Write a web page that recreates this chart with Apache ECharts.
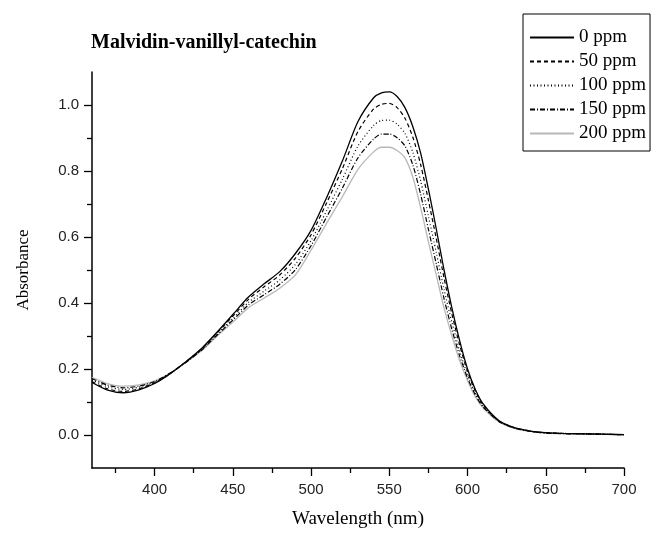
<!DOCTYPE html>
<html>
<head>
<meta charset="utf-8">
<script src="https://cdn.jsdelivr.net/npm/echarts@6/dist/echarts.min.js"></script>
<style>
  html, body { margin: 0; padding: 0; background: #fff; }
  #chart { width: 652px; height: 534px; }
</style>
</head>
<body>
<div id="chart"></div>
<script>
  // wavelength (nm)
  var wavelengths = [360, 370, 380, 390, 400, 410, 420, 430, 440, 450, 460, 470, 480, 490, 500, 510, 520, 530, 540, 545,
    550, 555, 560, 565, 570, 575, 580, 585, 590, 595, 600, 605, 610, 620, 630, 640, 650, 660, 670, 680, 690, 700];

  // absorbance per concentration
  var ppm0 = [0.159, 0.136, 0.128, 0.137, 0.156, 0.186, 0.222, 0.262, 0.312, 0.365, 0.418, 0.458, 0.495, 0.550, 0.620, 0.720, 0.830, 0.950, 1.022, 1.037,
    1.040, 1.026, 0.992, 0.935, 0.855, 0.745, 0.625, 0.500, 0.385, 0.285, 0.200, 0.138, 0.094, 0.044, 0.022, 0.012, 0.007, 0.005, 0.004, 0.003, 0.002, 0.001];
  var ppm50 = [0.162, 0.140, 0.132, 0.140, 0.158, 0.186, 0.222, 0.261, 0.310, 0.360, 0.411, 0.449, 0.485, 0.536, 0.607, 0.704, 0.807, 0.920, 0.988, 1.002,
    1.005, 0.992, 0.960, 0.903, 0.820, 0.711, 0.596, 0.476, 0.367, 0.272, 0.193, 0.133, 0.091, 0.043, 0.022, 0.012, 0.007, 0.005, 0.004, 0.003, 0.002, 0.001];
  var ppm100 = [0.167, 0.146, 0.138, 0.145, 0.160, 0.187, 0.221, 0.258, 0.306, 0.353, 0.402, 0.436, 0.470, 0.517, 0.589, 0.680, 0.775, 0.876, 0.938, 0.953,
    0.954, 0.942, 0.914, 0.857, 0.771, 0.663, 0.554, 0.441, 0.342, 0.254, 0.182, 0.126, 0.088, 0.042, 0.021, 0.012, 0.006, 0.005, 0.004, 0.003, 0.002, 0.001];
  var ppm150 = [0.171, 0.151, 0.143, 0.148, 0.162, 0.188, 0.220, 0.257, 0.303, 0.348, 0.394, 0.425, 0.457, 0.501, 0.574, 0.661, 0.748, 0.840, 0.897, 0.912,
    0.912, 0.901, 0.876, 0.819, 0.730, 0.623, 0.519, 0.413, 0.320, 0.239, 0.173, 0.121, 0.085, 0.041, 0.021, 0.011, 0.006, 0.004, 0.003, 0.003, 0.002, 0.001];
  var ppm200 = [0.175, 0.156, 0.148, 0.152, 0.164, 0.188, 0.220, 0.255, 0.300, 0.342, 0.386, 0.415, 0.445, 0.485, 0.560, 0.642, 0.722, 0.805, 0.858, 0.872,
    0.872, 0.862, 0.840, 0.782, 0.690, 0.585, 0.485, 0.385, 0.300, 0.225, 0.165, 0.115, 0.082, 0.040, 0.020, 0.011, 0.006, 0.004, 0.003, 0.003, 0.002, 0.001];

  var seriesNames = ['0 ppm', '50 ppm', '100 ppm', '150 ppm', '200 ppm'];

  // tick positions
  var xMajorTicks = [400, 450, 500, 550, 600, 650, 700];
  var xMinorTicks = [375, 425, 475, 525, 575, 625, 675];
  var yMajorTicks = [0, 0.2, 0.4, 0.6, 0.8, 1.0];
  var yMinorTicks = [0.1, 0.3, 0.5, 0.7, 0.9];

  var serif = '"Liberation Serif", "Times New Roman", serif';
  var sans = '"Liberation Sans", Arial, sans-serif';

  function pairs(values) {
    return wavelengths.map(function (w, i) { return [w, values[i]]; });
  }

  var myChart = echarts.init(document.getElementById('chart'));

  var lineStyles = [
    { color: '#000', width: 1.3, type: 'solid' },
    { color: '#000', width: 1.2, type: [4, 3] },
    { color: '#000', width: 1.2, type: [1, 2.5] },
    { color: '#000', width: 1.2, type: [5, 2, 1, 2] },
    { color: '#b8b8b8', width: 1.3, type: 'solid' }
  ];
  var allData = [ppm0, ppm50, ppm100, ppm150, ppm200];

  var axisLineStyle = { color: '#000', width: 1.5 };

  var option = {
    animation: false,
    title: {
      text: 'Malvidin-vanillyl-catechin',
      left: 91,
      top: 33,
      padding: 0,
      textStyle: { fontFamily: serif, fontWeight: 'bold', fontSize: 20, color: '#000' }
    },
    legend: {
      orient: 'vertical',
      left: 523,
      top: 14,
      padding: [14, 4, 8, 6],
      itemWidth: 44,
      itemHeight: 14,
      itemGap: 5,
      borderColor: '#000',
      borderWidth: 1,
      borderRadius: 0,
      itemStyle: { opacity: 0, borderWidth: 0 },
      data: seriesNames,
      textStyle: { fontFamily: serif, fontSize: 19, color: '#000', lineHeight: 19 }
    },
    grid: { left: 92, right: 28, top: 72, bottom: 60 },
    xAxis: [
      {
        type: 'value',
        min: 360,
        max: 700,
        name: 'Wavelength (nm)',
        nameLocation: 'middle',
        nameGap: 42,
        nameTextStyle: { fontFamily: serif, fontSize: 19, color: '#000' },
        axisLine: { onZero: false, lineStyle: axisLineStyle },
        axisTick: { show: true, length: 8, customValues: xMajorTicks, lineStyle: { color: '#000', width: 1.3 } },
        axisLabel: { customValues: xMajorTicks, margin: 14, fontFamily: sans, fontSize: 15, color: '#222' },
        splitLine: { show: false }
      },
      {
        type: 'value',
        min: 360,
        max: 700,
        position: 'bottom',
        axisLine: { show: false, onZero: false },
        axisTick: { show: true, length: 5, customValues: xMinorTicks, lineStyle: { color: '#000', width: 1.3 } },
        axisLabel: { show: false },
        splitLine: { show: false }
      }
    ],
    yAxis: [
      {
        type: 'value',
        min: -0.1,
        max: 1.1,
        name: 'Absorbance',
        nameLocation: 'middle',
        nameGap: 60,
        nameTextStyle: { fontFamily: serif, fontSize: 17, color: '#000' },
        axisLine: { show: true, onZero: false, lineStyle: axisLineStyle },
        axisTick: { show: true, length: 8, customValues: yMajorTicks, lineStyle: { color: '#000', width: 1.3 } },
        axisLabel: {
          customValues: yMajorTicks,
          margin: 13,
          fontFamily: sans,
          fontSize: 15,
          color: '#222',
          formatter: function (v) { return v.toFixed(1); }
        },
        splitLine: { show: false }
      },
      {
        type: 'value',
        min: -0.1,
        max: 1.1,
        position: 'left',
        axisLine: { show: false, onZero: false },
        axisTick: { show: true, length: 5, customValues: yMinorTicks, lineStyle: { color: '#000', width: 1.3 } },
        axisLabel: { show: false },
        splitLine: { show: false }
      }
    ],
    series: seriesNames.map(function (name, i) {
      return {
        name: name,
        type: 'line',
        xAxisIndex: 0,
        yAxisIndex: 0,
        data: pairs(allData[i]),
        symbol: 'none',
        showSymbol: false,
        smooth: 0.25,
        z: 10 - i,
        color: lineStyles[i].color,
        lineStyle: lineStyles[i]
      };
    })
  };

  myChart.setOption(option);

  window.addEventListener('resize', function () {
    myChart.resize();
  });
</script>
</body>
</html>
